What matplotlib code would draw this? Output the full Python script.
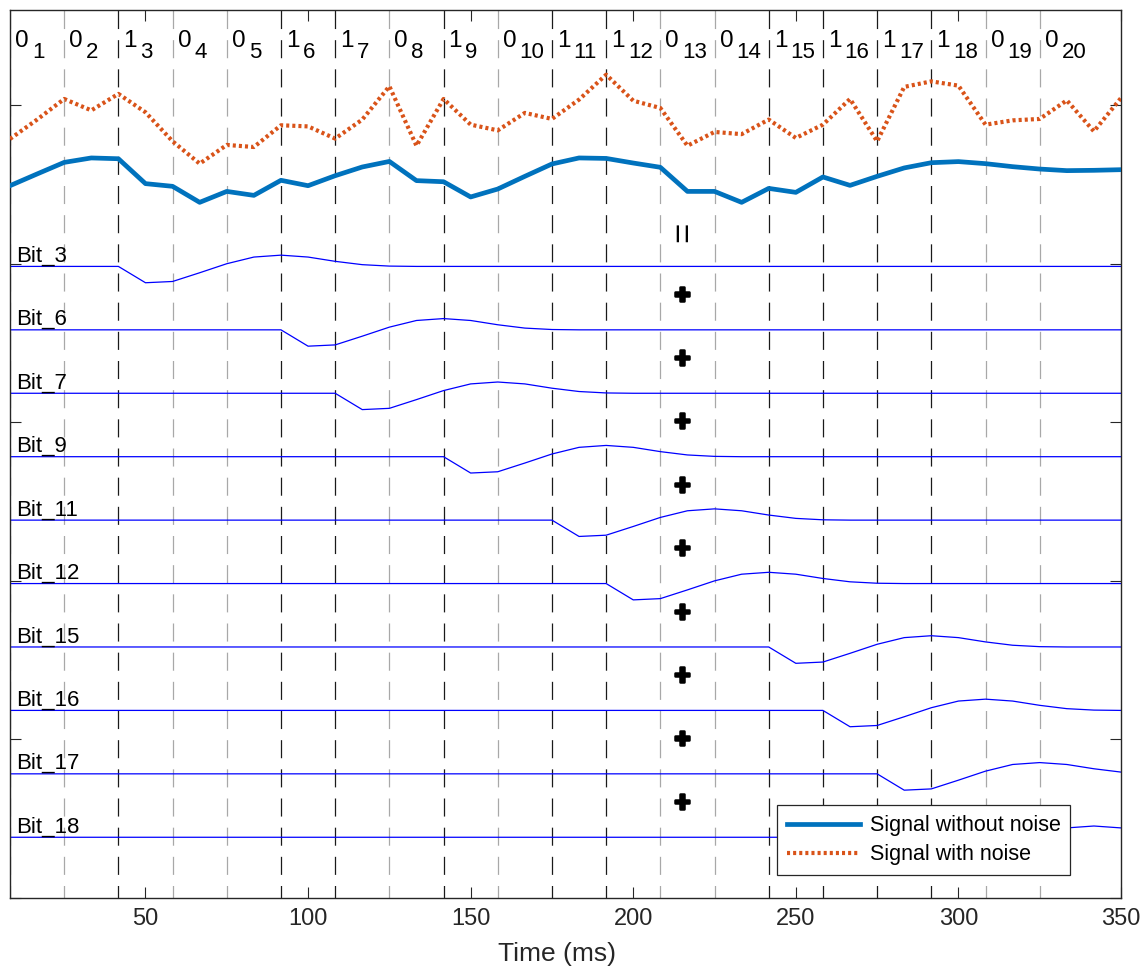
import numpy as np
import matplotlib
matplotlib.use('Agg')
import matplotlib.pyplot as plt
import matplotlib.patheffects as pe

plt.rcParams['font.family'] = ['Liberation Sans', 'DejaVu Sans']
plt.rcParams['lines.scale_dashes'] = False

# ---------------- data ----------------
sample_step_ms = 25 / 3                       # sampling interval
time_ms = np.arange(1, 43) * sample_step_ms   # 8.33 ... 350 ms
bit_period_ms = 50 / 3
bits = [0, 0, 1, 0, 0, 1, 1, 0, 1, 0, 1, 1, 0, 0, 1, 1, 1, 1, 0, 0]
bit_start_ms = sample_step_ms + bit_period_ms * np.arange(len(bits))

signal_clean = [4.492, 4.566, 4.639, 4.667, 4.662, 4.505, 4.488, 4.387, 4.456, 4.431,
                4.526, 4.492, 4.555, 4.610, 4.645, 4.524, 4.517, 4.421, 4.471, 4.551,
                4.629, 4.667, 4.664, 4.635, 4.608, 4.456, 4.456, 4.387, 4.475, 4.450,
                4.547, 4.494, 4.551, 4.604, 4.637, 4.644, 4.631, 4.612, 4.597, 4.587,
                4.589, 4.593]
signal_noisy = [4.787, 4.909, 5.039, 4.967, 5.071, 4.955, 4.772, 4.631, 4.749, 4.736,
                4.873, 4.866, 4.789, 4.909, 5.119, 4.744, 5.039, 4.877, 4.841, 4.951,
                4.913, 5.035, 5.192, 5.028, 4.982, 4.744, 4.831, 4.817, 4.909, 4.793,
                4.877, 5.039, 4.772, 5.115, 5.150, 5.123, 4.877, 4.904, 4.913, 5.030,
                4.835, 5.045]

# response of one "1" bit (per sample after the bit start)
bit_response = [0.0, -0.103, -0.095, -0.040, 0.017, 0.059, 0.071, 0.059, 0.032, 0.011, 0.002, 0.0]
trace_bits = [3, 6, 7, 9, 11, 12, 15, 16, 17, 18]
trace_baselines = [3.983, 3.583, 3.183, 2.783, 2.383, 1.983, 1.583, 1.183, 0.783, 0.383]
trace_labels = ['Bit_%d' % b for b in trace_bits]

plus_y = [3.798, 3.398, 2.998, 2.598, 2.198, 1.798, 1.398, 0.998, 0.598]
plus_x_ms = 215.0
equals_y = 4.202

xticks = [50, 100, 150, 200, 250, 300, 350]
yticks = [0, 1, 2, 3, 4, 5]

# ---------------- figure ----------------
W, H = 1140, 971
fig = plt.figure(figsize=(W / 100, H / 100), dpi=100)
ax = fig.add_axes([10 / W, 1 - 898 / H, 1111 / W, 888 / H])
ax.set_xlim(sample_step_ms, 350)
ax.set_ylim(0, 5.6)

# bit boundary lines
for b, x0 in zip(bits, bit_start_ms):
    if b == 1:
        ax.axvline(x0, color='#1a1a1a', lw=0.9, linestyle=(4, (13, 8)), zorder=1)
    else:
        ax.axvline(x0, color='#a8a8a8', lw=0.9, linestyle=(4, (13, 8)), zorder=1)

# signals
l1, = ax.plot(time_ms, signal_clean, color='#0072BD', lw=3.4, zorder=3,
              solid_joinstyle='round', label='Signal without noise')
l2, = ax.plot(time_ms, signal_noisy, color='#D95319', lw=3.0, zorder=3,
              linestyle=(0, (2.2, 2.2)), dash_capstyle='butt', label='Signal with noise')

# individual bit traces
for b, base, lab in zip(trace_bits, trace_baselines, trace_labels):
    y = np.full(len(time_ms), base)
    i0 = 2 * b - 2
    for j, v in enumerate(bit_response):
        if i0 + j < len(y):
            y[i0 + j] = base + v
    ax.plot(time_ms, y, color='#0000FF', lw=0.9, zorder=2)
    ax.text(sample_step_ms + 1.74, base + 0.03, lab, fontsize=16, va='baseline',
            ha='left', color='black', zorder=4)

# bit value labels with index subscripts
for i, (b, x0) in enumerate(zip(bits, bit_start_ms)):
    ax.text(x0 + 1.54, 5.369, str(b), fontsize=17.5, va='baseline', ha='left')
    ax.text(x0 + 6.7, 5.300, str(i + 1), fontsize=16, va='baseline', ha='left')

# '=' and '+' signs
ax.text(plus_x_ms + 0.6, equals_y, '=', fontsize=25, rotation=90,
        ha='center', va='center')
for yy in plus_y:
    ax.text(plus_x_ms, yy, '+', fontsize=21, fontweight='bold', ha='center',
            va='center', path_effects=[pe.withStroke(linewidth=1.8, foreground='k')])

# axes styling
ax.set_xticks(xticks)
ax.set_xticklabels([str(t) for t in xticks])
ax.set_yticks(yticks)
ax.set_yticklabels([])
ax.tick_params(axis='both', direction='in', length=8, width=0.8, color='#262626',
               top=True, right=True, labelsize=17, labelcolor='#262626', pad=7)
for s in ax.spines.values():
    s.set_color('#262626')
    s.set_linewidth(1.0)
ax.set_xlabel('Time (ms)', fontsize=19, color='#262626')
ax.xaxis.set_label_coords((557 - 10) / 1111, (898 - 942) / 888)
ax.xaxis.label.set_va('top')

leg = ax.legend(handles=[l1, l2], loc='lower left',
                bbox_to_anchor=((777.3 - 10) / 1111, (898 - 875) / 888),
                borderaxespad=0, fontsize=15.5, handlelength=3.4,
                handletextpad=0.45, borderpad=0.45, labelspacing=0.38,
                fancybox=False, framealpha=1, edgecolor='#262626')
leg.get_frame().set_linewidth(0.9)
leg.set_zorder(10)

fig.savefig('out.png', dpi=100)
